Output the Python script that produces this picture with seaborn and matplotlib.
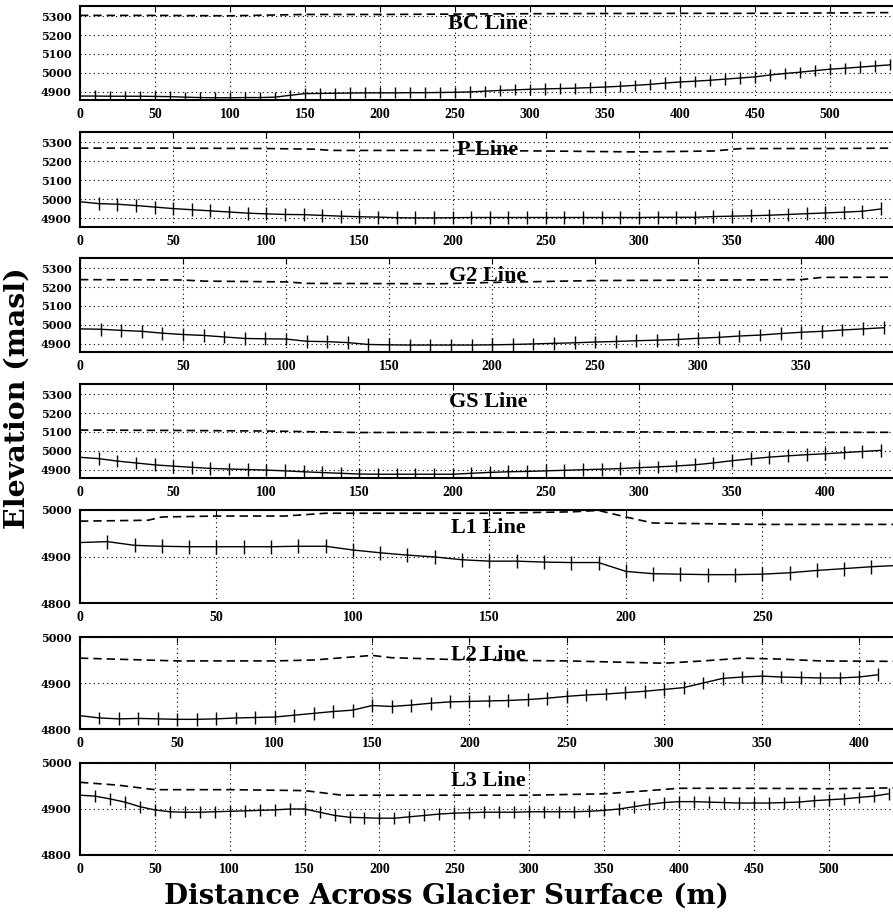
import matplotlib
matplotlib.use("Agg")
import matplotlib.pyplot as plt
import seaborn as sns

sns.set_style("white")
plt.rcParams["font.family"] = ["Liberation Serif", "DejaVu Serif"]
plt.rcParams["text.color"] = "black"
plt.rcParams["xtick.color"] = "black"
plt.rcParams["ytick.color"] = "black"
plt.rcParams["axes.labelcolor"] = "black"

# ------------------------------------------------------------
# Data (distance in m, elevation in masl)
# ------------------------------------------------------------

# survey stations across the glacier, shared by all profiles
stations = [0, 10, 20, 30, 40, 50, 60, 70, 80, 90, 100, 110, 120, 130, 140,
            150, 160, 170, 180, 190, 200, 210, 220, 230, 240, 250, 260, 270,
            280, 290, 300, 310, 320, 330, 340, 350, 360, 370, 380, 390, 400,
            410, 420, 430, 440, 450, 460, 470, 480, 490, 500, 510, 520, 530,
            540]

titles = ["BC Line", "P Line", "G2 Line", "GS Line", "L1 Line", "L2 Line", "L3 Line"]

# BC line
bc_surface = [4876, 4876, 4875, 4875, 4875, 4874, 4873, 4870, 4868, 4867,
              4867, 4868, 4868, 4870, 4880, 4889, 4890, 4891, 4892, 4893,
              4893, 4893, 4894, 4894, 4895, 4896, 4898, 4902, 4906, 4909,
              4912, 4914, 4916, 4918, 4921, 4924, 4928, 4933, 4938, 4945,
              4951, 4955, 4960, 4966, 4972, 4978, 4988, 4996, 5003, 5011,
              5019, 5024, 5030, 5036, 5042]
bc_dash_x = [0, 50, 100, 150, 200, 250, 300, 350, 400, 450, 500, 544]
bc_dash = [5305, 5305, 5303, 5310, 5310, 5312, 5314, 5315, 5316, 5316, 5318, 5320]

# P line
p_surface = [4988, 4978, 4975, 4968, 4960, 4952, 4946, 4940, 4934, 4928,
             4924, 4921, 4920, 4916, 4912, 4909, 4907, 4904, 4903, 4903,
             4904, 4905, 4905, 4905, 4905, 4905, 4905, 4905, 4905, 4905,
             4905, 4906, 4906, 4906, 4910, 4912, 4914, 4917, 4921, 4925,
             4929, 4933, 4938, 4950]
p_dash_x = [0, 50, 100, 125, 135, 200, 250, 300, 340, 355, 400, 438]
p_dash = [5270, 5270, 5268, 5265, 5258, 5258, 5255, 5250, 5255, 5268, 5268, 5270]

# G2 line
g2_surface = [4978, 4976, 4970, 4965, 4955, 4948, 4943, 4935, 4927, 4925,
              4924, 4912, 4910, 4905, 4895, 4893, 4892, 4892, 4892, 4892,
              4893, 4895, 4898, 4901, 4904, 4908, 4911, 4915, 4918, 4922,
              4928, 4933, 4940, 4945, 4953, 4960, 4965, 4972, 4978, 4984]
g2_dash_x = [0, 50, 60, 100, 110, 175, 200, 250, 300, 350, 360, 396]
g2_dash = [5240, 5238, 5232, 5228, 5220, 5218, 5225, 5235, 5237, 5240, 5252, 5253]

# GS line
gs_surface = [4965, 4958, 4945, 4935, 4925, 4918, 4912, 4906, 4903, 4900,
              4897, 4893, 4888, 4884, 4880, 4876, 4875, 4875, 4875, 4875,
              4875, 4880, 4885, 4888, 4890, 4893, 4896, 4899, 4902, 4905,
              4910, 4914, 4919, 4925, 4935, 4947, 4957, 4966, 4973, 4979,
              4984, 4990, 4996, 5002]
gs_dash_x = [0, 50, 100, 150, 200, 250, 300, 350, 400, 438]
gs_dash = [5110, 5108, 5105, 5097, 5098, 5099, 5100, 5100, 5098, 5098]

# L1 line
l1_surface = [4930, 4932, 4924, 4922, 4921, 4921, 4921, 4921, 4922, 4922,
              4914, 4908, 4903, 4899, 4893, 4890, 4890, 4888, 4887, 4887,
              4868, 4863, 4862, 4861, 4861, 4862, 4865, 4870, 4874, 4878,
              4881]
l1_dash_x = [0, 25, 30, 50, 75, 90, 100, 150, 180, 190, 200, 210, 250, 300]
l1_dash = [4976, 4978, 4985, 4987, 4987, 4993, 4993, 4993, 4996, 4999, 4985,
           4972, 4969, 4969]

# L2 line
l2_surface = [4829, 4824, 4822, 4823, 4822, 4821, 4821, 4822, 4824, 4825,
              4826, 4830, 4834, 4838, 4841, 4851, 4849, 4852, 4856, 4859,
              4860, 4861, 4862, 4864, 4867, 4871, 4874, 4876, 4879, 4882,
              4886, 4890, 4900, 4910, 4913, 4915, 4913, 4912, 4911, 4911,
              4913, 4918]
l2_dash_x = [0, 50, 100, 120, 150, 160, 200, 250, 300, 320, 340, 360, 380, 419]
l2_dash = [4954, 4948, 4948, 4950, 4960, 4955, 4950, 4948, 4943, 4948, 4954,
           4952, 4948, 4947]

# L3 line
l3_surface = [4930, 4928, 4922, 4915, 4905, 4898, 4894, 4893, 4893, 4894,
              4895, 4896, 4897, 4898, 4900, 4900, 4893, 4886, 4882, 4881,
              4880, 4880, 4883, 4886, 4889, 4891, 4892, 4893, 4893, 4893,
              4894, 4894, 4894, 4894, 4895, 4897, 4900, 4905, 4910, 4914,
              4916, 4916, 4915, 4914, 4913, 4913, 4913, 4914, 4915, 4918,
              4920, 4922, 4925, 4928, 4933]
l3_dash_x = [0, 25, 50, 100, 150, 175, 250, 300, 350, 380, 400, 450, 500, 545]
l3_dash = [4958, 4952, 4942, 4942, 4940, 4930, 4930, 4930, 4933, 4940, 4945,
           4945, 4944, 4946]

# half-length of the error bar on each surface point (m)
error_halfwidth = [30, 34, 34, 34, 15, 14, 13]

surfaces = [bc_surface, p_surface, g2_surface, gs_surface, l1_surface, l2_surface, l3_surface]
dash_xs = [bc_dash_x, p_dash_x, g2_dash_x, gs_dash_x, l1_dash_x, l2_dash_x, l3_dash_x]
dashes = [bc_dash, p_dash, g2_dash, gs_dash, l1_dash, l2_dash, l3_dash]

# ------------------------------------------------------------
# Layout (pixels on a 893x917 canvas)
# ------------------------------------------------------------
W, H = 893, 917
tops = [6, 132, 258, 384, 510, 637, 763]
heights = [94, 95, 94, 94, 93, 92, 92]
xmaxes = [544, 438, 396, 438, 299, 419, 545]
left, width = 80, 816

fig = plt.figure(figsize=(W / 100, H / 100), dpi=100)

for i in range(7):
    ax = fig.add_axes([left / W, 1 - (tops[i] + heights[i]) / H, width / W, heights[i] / H])
    n = len(surfaces[i])
    xs = stations[:n]

    sns.lineplot(x=dash_xs[i], y=dashes[i], ax=ax, color="black", lw=1.2,
                 linestyle=(0, (5, 3)))
    sns.lineplot(x=xs, y=surfaces[i], ax=ax, color="black", lw=1.0)
    ax.errorbar(xs[1:], surfaces[i][1:], yerr=error_halfwidth[i], fmt="none",
                ecolor="black", elinewidth=1.0, capsize=0)

    ax.set_xlim(0, xmaxes[i])
    ax.set_xticks(list(range(0, xmaxes[i] - 5, 50)))
    if i < 4:
        ax.set_ylim(4855, 5355)
        ax.set_yticks([4900, 5000, 5100, 5200, 5300])
    else:
        ax.set_ylim(4800, 5000)
        ax.set_yticks([4800, 4900, 5000])

    ax.grid(True, color="black", linestyle=(0, (1, 3)), lw=0.8)
    for sp in ax.spines.values():
        sp.set_color("black")
        sp.set_linewidth(1.5)
    ax.tick_params(axis="x", direction="in", length=4, top=True, pad=6)
    ax.tick_params(axis="y", direction="in", length=3, pad=6)
    for lab in ax.get_xticklabels():
        lab.set_fontfamily("Liberation Serif")
        lab.set_fontweight("bold")
        lab.set_fontsize(10)
    for lab in ax.get_yticklabels():
        lab.set_fontfamily("DejaVu Serif")
        lab.set_fontweight("bold")
        lab.set_fontsize(8)
    ax.set_xlabel("")
    ax.set_ylabel("")

    ax.annotate(titles[i], xy=(0.5, 1), xycoords="axes fraction",
                xytext=(0, -16.5), textcoords="offset points",
                ha="center", va="baseline", fontsize=16, fontweight="bold",
                fontfamily="Liberation Serif", color="black")

fig.text(0.5, 1 - 896 / H, "Distance Across Glacier Surface (m)", ha="center",
         va="center", fontsize=20, fontweight="bold", fontfamily="DejaVu Serif",
         color="black")
fig.text(17 / W, 1 - 398 / H, "Elevation (masl)", rotation=90, ha="center",
         va="center", fontsize=20.5, fontweight="bold", fontfamily="DejaVu Serif",
         color="black")

fig.savefig("out.png", dpi=100)
